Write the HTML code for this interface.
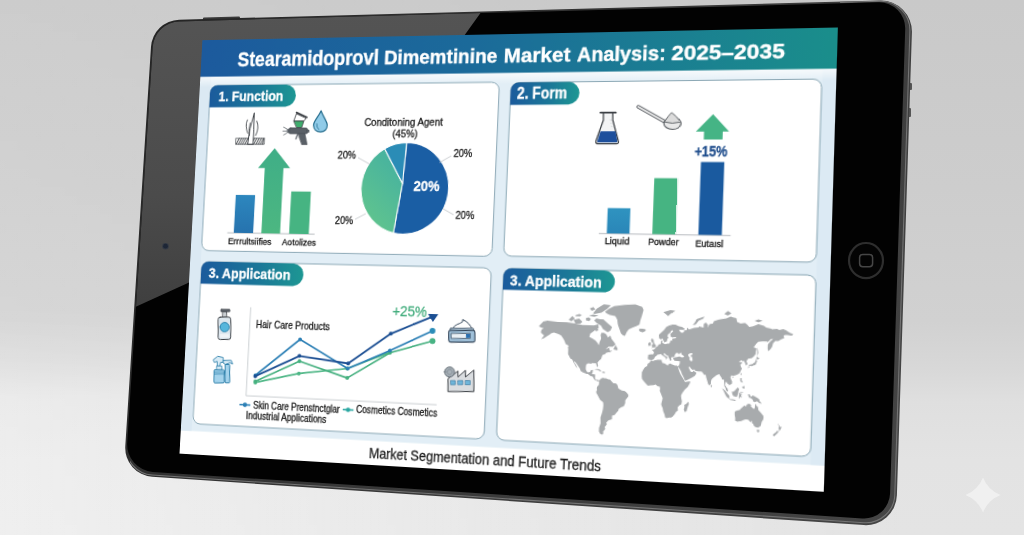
<!DOCTYPE html>
<html lang="en"><head><meta charset="utf-8"><title>Stearamidoprovl Dimemtinine Market Analysis</title>
<style>
html,body{margin:0;padding:0}
body{width:1024px;height:535px;overflow:hidden;position:relative;background:#d6d6d6;font-family:'Liberation Sans', sans-serif}
#bg{position:absolute;left:0;top:0;width:1024px;height:535px;background:linear-gradient(to bottom,#c9c9c9 0%,#cdcdcd 35%,#d1d1d1 60%,#d8d8d8 69%,#dfdfdf 75%,#e3e3e3 86%,#e4e4e4 100%)}
#bg2{position:absolute;left:0;top:0;width:1024px;height:535px;background:linear-gradient(to right,rgba(255,255,255,.42) 0%,rgba(255,255,255,.37) 15%,rgba(255,255,255,0) 88%);-webkit-mask-image:linear-gradient(to bottom,rgba(0,0,0,.17) 0%,rgba(0,0,0,.3) 58%,rgba(0,0,0,.56) 67%,rgba(0,0,0,.92) 74%,#000 100%);mask-image:linear-gradient(to bottom,rgba(0,0,0,.17) 0%,rgba(0,0,0,.3) 58%,rgba(0,0,0,.56) 67%,rgba(0,0,0,.92) 74%,#000 100%)}
#tablet{position:absolute;left:0;top:0}
#plane{position:absolute;left:0;top:0;width:0;height:0;transform-origin:0 0;transform:matrix3d(0.85116902,-0.024497638,0,-0.00016923228,-0.058584347,0.92302154,0,-3.6428372e-05,0,0,1,0,202.4,40.2,0,1)}
#plane svg{position:absolute;left:-12px;top:-12px;overflow:hidden}
text{font-family:'Liberation Sans', sans-serif}
#spark{position:absolute;left:965px;top:477px}
</style></head><body>
<div id="bg"></div><div id="bg2"></div>
<svg id="spark" width="36" height="36" viewBox="-18 -18 36 36"><path d="M0 -17.5Q5 -5 17.5 0Q5 5 0 17.5Q-5 5 -17.5 0Q-5 -5 0 -17.5Z" fill="#f0f0f0"/></svg>
<svg id="tablet" width="1024" height="535" viewBox="0 0 1024 535">
<defs>
<linearGradient id="refl" gradientUnits="userSpaceOnUse" x1="0" y1="10" x2="0" y2="320"><stop offset="0" stop-color="#545454"/><stop offset="0.6" stop-color="#4b4b4b"/><stop offset="1" stop-color="#3e3e3e"/></linearGradient>
<linearGradient id="rim" gradientUnits="userSpaceOnUse" x1="150" y1="0" x2="900" y2="530"><stop offset="0" stop-color="#242424"/><stop offset="0.5" stop-color="#383838"/><stop offset="1" stop-color="#454545"/></linearGradient>
<clipPath id="rbclip"><path d="M840 0H1024V535H130V455L860 500Z"/></clipPath>
<clipPath id="gclip"><path d="M152.7 47.1A27.5 27.5 0 0 1 179.4 21.4L878.5 2.3A26.0 26.0 0 0 1 905.2 29.1L890.1 493.3A26.0 26.0 0 0 1 862.5 518.4L152.8 471.9A27.5 27.5 0 0 1 127.2 442.7Z"/></clipPath>
</defs>
<rect x="203" y="17.6" width="37" height="3" rx="1" fill="#3a3a3a" transform="rotate(-1.56 203 19)"/>
<rect x="909" y="83" width="3" height="7" rx="1" fill="#555"/><rect x="908" y="108" width="3" height="9" rx="1" fill="#555"/>
<path d="M151.0 46.8A29.0 29.0 0 0 1 179.1 19.7L880.1 0.5A31.0 31.0 0 0 1 911.9 32.5L896.9 495.2A31.0 31.0 0 0 1 863.8 525.1L152.2 476.8A29.0 29.0 0 0 1 125.3 446.0Z" fill="url(#rim)"/>
<path d="M151.8 46.6A28.0 28.0 0 0 1 179.0 20.5L880.1 1.3A29.0 29.0 0 0 1 909.9 31.3L894.8 494.7A29.0 29.0 0 0 1 863.9 522.7L152.2 475.0A28.0 28.0 0 0 1 126.1 445.3Z" fill="none" stroke="#747474" stroke-width="1.1" clip-path="url(#rbclip)"/>
<path d="M152.7 47.1A27.5 27.5 0 0 1 179.4 21.4L878.5 2.3A26.0 26.0 0 0 1 905.2 29.1L890.1 493.3A26.0 26.0 0 0 1 862.5 518.4L152.8 471.9A27.5 27.5 0 0 1 127.2 442.7Z" fill="#020202"/>
<g clip-path="url(#gclip)"><path d="M100 -10H497L455 48.5L300 150L200 277.5L100 323Z" fill="url(#refl)"/></g>
<circle cx="165.5" cy="246.2" r="3.3" fill="#333a45"/><circle cx="165.5" cy="246.2" r="2.4" fill="#1d2636"/>
<ellipse cx="866" cy="260.6" rx="17" ry="17.6" fill="#040404" stroke="#2e2e2e" stroke-width="2.2"/>
<rect x="859.6" y="254.4" width="13" height="12.4" rx="3.2" fill="none" stroke="#464646" stroke-width="1.5"/>

</svg>
<div id="plane">
<svg width="664" height="464" viewBox="-12 -12 664 464">
<defs>
<linearGradient id="hdr" x1="0" x2="1" y1="0" y2="0"><stop offset="0" stop-color="#1c5a9d"/><stop offset="0.45" stop-color="#1b6a9a"/><stop offset="1" stop-color="#1a8e8b"/></linearGradient>
<linearGradient id="pl" x1="0" x2="1" y1="0" y2="0"><stop offset="0" stop-color="#1b5b9c"/><stop offset="0.55" stop-color="#1b7698"/><stop offset="1" stop-color="#1d9793"/></linearGradient>
<linearGradient id="glow" x1="0" x2="0" y1="0" y2="1"><stop offset="0" stop-color="#fff" stop-opacity="0.75"/><stop offset="1" stop-color="#fff" stop-opacity="0"/></linearGradient>
<linearGradient id="blg" x1="0" x2="0" y1="0" y2="1"><stop offset="0" stop-color="#2d87be"/><stop offset="1" stop-color="#2673ae"/></linearGradient>
<linearGradient id="blg2" x1="0" x2="0" y1="0" y2="1"><stop offset="0" stop-color="#2f93c0"/><stop offset="1" stop-color="#2a86b8"/></linearGradient>
<linearGradient id="gr" x1="0" x2="0" y1="0" y2="1"><stop offset="0" stop-color="#3fae87"/><stop offset="1" stop-color="#4cb781"/></linearGradient>
<linearGradient id="pieg" x1="0.7" x2="0.2" y1="0" y2="1"><stop offset="0" stop-color="#45b1a0"/><stop offset="1" stop-color="#63c68c"/></linearGradient>
<clipPath id="scr"><rect x="0" y="0" width="640" height="440"/></clipPath>
</defs>
<g clip-path="url(#scr)">
<rect x="0.0" y="0.0" width="640.0" height="440.0" fill="#ffffff"/>
<rect x="0.0" y="39.0" width="640.0" height="376.6" fill="#e2eef6"/>
<rect x="0.0" y="39.0" width="12.0" height="376.6" fill="#dbe9f3"/>
<rect x="627.5" y="39.0" width="12.5" height="376.6" fill="#dceaf4"/>
<rect x="0" y="39" width="640" height="12" fill="url(#glow)"/>
<rect x="0.0" y="0.0" width="640.0" height="39.6" fill="url(#hdr)"/>
<text y="28.9" fill="#fff" font-weight="bold" stroke="#fff" stroke-width="0.35"><tspan x="40.7" font-size="21.5" textLength="153.1" lengthAdjust="spacingAndGlyphs">Stearamidoprovl</tspan> <tspan x="199.4" font-size="21.0" textLength="117.0" lengthAdjust="spacingAndGlyphs">Dimemtinine</tspan> <tspan x="322.8" font-size="20.7" textLength="66.6" lengthAdjust="spacingAndGlyphs">Market</tspan> <tspan x="395.8" font-size="20.4" textLength="85.8" lengthAdjust="spacingAndGlyphs">Analysis:</tspan> <tspan x="487.1" font-size="20.0" textLength="105.6" lengthAdjust="spacingAndGlyphs">2025–2035</tspan></text>
<rect x="12" y="49" width="307.6" height="176.4" rx="8" ry="8" fill="#fff" stroke="#86a3b1" stroke-width="0.95"/>
<rect x="331.3" y="49.5" width="295.7" height="175.3" rx="8" ry="8" fill="#fff" stroke="#86a3b1" stroke-width="0.95"/>
<rect x="13" y="237" width="306.7" height="171.0" rx="8" ry="8" fill="#fff" stroke="#86a3b1" stroke-width="0.95"/>
<rect x="332" y="237" width="295.3" height="171.0" rx="8" ry="8" fill="#fff" stroke="#86a3b1" stroke-width="0.95"/>
<path d="M20.0 49.0H96.2A11.8 11.8 0 0 1 96.2 72.5H12.0V57.0A8 8 0 0 1 20.0 49.0Z" fill="url(#pl)" stroke="none" stroke-width="1"/>
<text x="21.7" y="65.6" font-size="14.9" fill="#fff" font-weight="bold" text-anchor="start" textLength="71.6" lengthAdjust="spacingAndGlyphs" stroke="#fff" stroke-width="0.3">1. Function</text>
<path d="M339.3 49.5H389.3A11.4 11.4 0 0 1 389.3 72.2H331.3V57.5A8 8 0 0 1 339.3 49.5Z" fill="url(#pl)" stroke="none" stroke-width="1"/>
<text x="337.8" y="66.2" font-size="15.6" fill="#fff" font-weight="bold" text-anchor="start" textLength="49.8" lengthAdjust="spacingAndGlyphs" stroke="#fff" stroke-width="0.3">2. Form</text>
<path d="M21.0 237.0H114.3A11.8 11.8 0 0 1 114.3 260.5H13.0V245.0A8 8 0 0 1 21.0 237.0Z" fill="url(#pl)" stroke="none" stroke-width="1"/>
<text x="21.6" y="254.0" font-size="15" fill="#fff" font-weight="bold" text-anchor="start" textLength="89.5" lengthAdjust="spacingAndGlyphs" stroke="#fff" stroke-width="0.3">3. Application</text>
<path d="M340.0 237.0H430.4A10.8 10.8 0 0 1 430.4 258.6H332.0V245.0A8 8 0 0 1 340.0 237.0Z" fill="url(#pl)" stroke="none" stroke-width="1"/>
<text x="338.8" y="253.6" font-size="15.2" fill="#fff" font-weight="bold" text-anchor="start" textLength="89.8" lengthAdjust="spacingAndGlyphs" stroke="#fff" stroke-width="0.3">3. Application</text>
<line x1="39.6" y1="206.1" x2="134.8" y2="206.1" stroke="#b8bcc0" stroke-width="1"/>
<rect x="46.8" y="165.9" width="21.3" height="40.1" fill="url(#blg)"/>
<path d="M77.1 206V137.2H69.8L86.8 116.2L104.7 137.2H97.5V206Z" fill="url(#gr)" stroke="none" stroke-width="1"/>
<rect x="107.3" y="161.7" width="21.2" height="44.3" fill="#46b482"/>
<text x="41.0" y="218.1" font-size="9.3" fill="#161616" font-weight="normal" text-anchor="start" textLength="47.6" lengthAdjust="spacingAndGlyphs" stroke="#161616" stroke-width="0.28">Errrultsiifies</text>
<text x="100.1" y="217.8" font-size="9.3" fill="#161616" font-weight="normal" text-anchor="start" textLength="36.6" lengthAdjust="spacingAndGlyphs" stroke="#161616" stroke-width="0.28">Aotolizes</text>
<path d="M224.9 152.5L227.4 110.5A45.5 47 0 1 1 217.9 203.5Z" fill="#1a5ea4" stroke="#fff" stroke-width="1.1" stroke-linejoin="round"/>
<path d="M224.9 152.5L217.9 203.5A45.5 47 0 0 1 204.6 116.8Z" fill="url(#pieg)" stroke="#fff" stroke-width="1.1" stroke-linejoin="round"/>
<path d="M224.9 152.5L204.6 116.8A45.5 47 0 0 1 227.4 110.5Z" fill="#2b8cb6" stroke="#fff" stroke-width="1.1" stroke-linejoin="round"/>
<text x="181.9" y="93.3" font-size="10.6" fill="#161616" font-weight="normal" text-anchor="start" textLength="81.9" lengthAdjust="spacingAndGlyphs" stroke="#161616" stroke-width="0.28">Conditoning Agent</text>
<text x="212.0" y="104.6" font-size="10.6" fill="#161616" font-weight="normal" text-anchor="start" textLength="26.3" lengthAdjust="spacingAndGlyphs" stroke="#161616" stroke-width="0.28">(45%)</text>
<text x="155.3" y="127.4" font-size="10.6" fill="#161616" font-weight="normal" text-anchor="start" textLength="19.4" lengthAdjust="spacingAndGlyphs" stroke="#161616" stroke-width="0.28">20%</text>
<text x="276.2" y="125.0" font-size="10.6" fill="#161616" font-weight="normal" text-anchor="start" textLength="19.1" lengthAdjust="spacingAndGlyphs" stroke="#161616" stroke-width="0.28">20%</text>
<text x="155.8" y="195.2" font-size="10.6" fill="#161616" font-weight="normal" text-anchor="start" textLength="19.3" lengthAdjust="spacingAndGlyphs" stroke="#161616" stroke-width="0.28">20%</text>
<text x="281.1" y="188.3" font-size="10.6" fill="#161616" font-weight="normal" text-anchor="start" textLength="19.0" lengthAdjust="spacingAndGlyphs" stroke="#161616" stroke-width="0.28">20%</text>
<text x="236.5" y="160.2" font-size="14.3" fill="#fff" font-weight="bold" text-anchor="start" textLength="26.9" lengthAdjust="spacingAndGlyphs" stroke="#fff" stroke-width="0.3">20%</text>
<line x1="177" y1="126" x2="190" y2="133" stroke="#b5b9bd" stroke-width="0.7"/>
<line x1="274" y1="124" x2="262" y2="131" stroke="#b5b9bd" stroke-width="0.7"/>
<line x1="177" y1="190" x2="188" y2="184" stroke="#b5b9bd" stroke-width="0.7"/>
<line x1="279" y1="184" x2="268" y2="178" stroke="#b5b9bd" stroke-width="0.7"/>
<line x1="423.9" y1="200.7" x2="548.4" y2="200.7" stroke="#b8bcc0" stroke-width="1"/>
<rect x="431.6" y="175.4" width="21.8" height="25.0" fill="url(#blg2)"/>
<rect x="475.1" y="145.5" width="22.1" height="54.9" fill="#46b482"/>
<rect x="518.5" y="129.5" width="21.8" height="70.9" fill="#1a5a9f"/>
<text x="429.9" y="211.5" font-size="8.7" fill="#161616" font-weight="normal" text-anchor="start" textLength="23.7" lengthAdjust="spacingAndGlyphs" stroke="#161616" stroke-width="0.28">Liquid</text>
<text x="471.4" y="211.4" font-size="8.7" fill="#161616" font-weight="normal" text-anchor="start" textLength="29.0" lengthAdjust="spacingAndGlyphs" stroke="#161616" stroke-width="0.28">Powder</text>
<text x="515.9" y="211.8" font-size="8.7" fill="#161616" font-weight="normal" text-anchor="start" textLength="26.1" lengthAdjust="spacingAndGlyphs" stroke="#161616" stroke-width="0.28">Eutaısl</text>
<path d="M528.3 82.7L543.7 99.8H537.9V107.5H520.4V99.8H512.7Z" fill="#45b485" stroke="none" stroke-width="1"/>
<text x="512.2" y="123.9" font-size="14" fill="#1f4d8c" font-weight="bold" text-anchor="start" textLength="30.6" lengthAdjust="spacingAndGlyphs" stroke="#1f4d8c" stroke-width="0.3">+15%</text>
<path d="M69.8 283.9V376.1H270.6" fill="none" stroke="#c4c8cc" stroke-width="0.9"/>
<path d="M79.1 361.9L125.5 350.7L176.5 343.5L220.2 325.1" fill="none" stroke="#4db685" stroke-width="1.7" stroke-linejoin="round" stroke-linecap="round"/>
<circle cx="79.1" cy="361.9" r="2.0" fill="#4db685"/>
<circle cx="125.5" cy="350.7" r="2.0" fill="#4db685"/>
<circle cx="176.5" cy="343.5" r="2.0" fill="#4db685"/>
<circle cx="220.2" cy="325.1" r="2.0" fill="#4db685"/>
<path d="M79.0 360.8L125.5 338.0L177.0 353.1L220.2 325.8L263.4 312.2" fill="none" stroke="#45b07f" stroke-width="1.7" stroke-linejoin="round" stroke-linecap="round"/>
<circle cx="79.0" cy="360.8" r="2.0" fill="#45b07f"/>
<circle cx="125.5" cy="338.0" r="2.0" fill="#45b07f"/>
<circle cx="177.0" cy="353.1" r="2.0" fill="#45b07f"/>
<circle cx="220.2" cy="325.8" r="2.0" fill="#45b07f"/>
<circle cx="263.4" cy="312.2" r="2.0" fill="#45b07f"/>
<path d="M78.7 354.5L125.0 315.5L177.0 343.5L220.1 323.5L262.9 302.0" fill="none" stroke="#2b7fb5" stroke-width="1.7" stroke-linejoin="round" stroke-linecap="round"/>
<circle cx="78.7" cy="354.5" r="2.0" fill="#2b7fb5"/>
<circle cx="125.0" cy="315.5" r="2.0" fill="#2b7fb5"/>
<circle cx="177.0" cy="343.5" r="2.0" fill="#2b7fb5"/>
<circle cx="220.1" cy="323.5" r="2.0" fill="#2b7fb5"/>
<circle cx="262.9" cy="302.0" r="2.0" fill="#2b7fb5"/>
<path d="M78.7 355.4L125.2 332.6L177.2 338.2L220.2 306.3L261.2 288.1" fill="none" stroke="#1c4f93" stroke-width="1.9" stroke-linejoin="round" stroke-linecap="round"/>
<circle cx="78.7" cy="355.4" r="2.0" fill="#1c4f93"/>
<circle cx="125.2" cy="332.6" r="2.0" fill="#1c4f93"/>
<circle cx="177.2" cy="338.2" r="2.0" fill="#1c4f93"/>
<circle cx="220.2" cy="306.3" r="2.0" fill="#1c4f93"/>
<circle cx="261.2" cy="288.1" r="2.0" fill="#1c4f93"/>
<circle cx="262.9" cy="302" r="3" fill="#2b8db8"/><circle cx="263.4" cy="312.2" r="3" fill="#48b384"/>
<path d="M257.6 284.9L268.1 284.9L262.9 293.1Z" fill="#1c4f93" stroke="none" stroke-width="1"/>
<text x="76.4" y="304.8" font-size="10.7" fill="#161616" font-weight="normal" text-anchor="start" textLength="79.6" lengthAdjust="spacingAndGlyphs" stroke="#161616" stroke-width="0.28">Hair Care Products</text>
<text x="220.7" y="288.0" font-size="14.8" fill="#43ad7d" font-weight="normal" text-anchor="start" textLength="35.6" lengthAdjust="spacingAndGlyphs" stroke="#43ad7d" stroke-width="0.28">+25%</text>
<line x1="63.2" y1="385.6" x2="75" y2="385.6" stroke="#2b7fb5" stroke-width="1.6"/><circle cx="69.1" cy="385.6" r="2.3" fill="#2b7fb5"/>
<text x="78.1" y="389.2" font-size="10" fill="#161616" font-weight="normal" text-anchor="start" textLength="92.7" lengthAdjust="spacingAndGlyphs" stroke="#161616" stroke-width="0.28">Skin Care Prenstnctglar</text>
<line x1="173.9" y1="385.5" x2="185.2" y2="385.5" stroke="#2ba7a2" stroke-width="1.6"/><circle cx="179.5" cy="385.5" r="2.3" fill="#2ba7a2"/>
<text x="188.0" y="388.4" font-size="10" fill="#161616" font-weight="normal" text-anchor="start" textLength="83.5" lengthAdjust="spacingAndGlyphs" stroke="#161616" stroke-width="0.28">Cosmetics Cosmetics</text>
<text x="70.8" y="400.0" font-size="10" fill="#161616" font-weight="normal" text-anchor="start" textLength="86.5" lengthAdjust="spacingAndGlyphs" stroke="#161616" stroke-width="0.28">Industrial Applications</text>
<path d="M369.4 293.4L373.4 289.0L377.4 287.9L387.4 289.0L396.1 289.0L404.8 290.1L411.5 291.2L418.1 291.2L422.8 291.2L426.8 290.1L427.5 293.4L424.2 295.7L419.5 299.4L418.8 302.8L421.5 303.9L424.8 306.1L426.8 308.2L428.2 310.4L428.8 307.2L430.2 303.9L429.5 300.6L430.2 298.2L432.8 298.2L434.8 299.4L436.8 302.8L438.8 300.6L440.2 303.9L442.9 307.2L444.2 309.3L441.5 311.4L437.5 311.4L434.8 314.4L438.2 312.4L438.8 315.4L441.5 315.4L438.8 317.1L437.5 317.1L434.8 317.9L434.8 319.0L432.2 319.8L431.5 321.7L430.8 324.1L429.5 324.9L427.5 327.4L428.2 330.6L427.8 332.2L426.8 330.6L426.2 328.2L424.8 328.2L422.1 328.2L421.5 329.0L418.8 328.6L416.8 329.8L416.5 332.2L416.5 334.4L417.5 336.6L418.8 337.4L420.8 337.0L421.5 335.2L423.5 334.8L423.2 337.4L422.5 338.9L425.5 338.9L425.8 340.4L425.8 343.0L426.8 344.6L428.2 344.6L428.8 344.2L429.8 345.0L429.5 345.7L428.2 345.7L427.5 345.3L426.2 345.0L424.8 343.8L424.2 342.5L423.2 341.3L421.5 340.9L420.1 340.0L418.8 338.9L417.5 339.1L415.5 338.3L413.5 337.4L411.5 336.3L411.1 334.4L409.5 332.2L408.1 330.2L406.5 328.2L405.1 326.9L405.1 328.2L406.8 330.6L408.1 332.9L408.5 333.7L406.8 332.2L405.4 329.8L404.4 328.2L403.4 326.1L402.4 324.9L401.1 324.5L400.1 322.5L398.8 320.2L398.8 317.9L398.8 315.4L398.4 313.0L399.4 312.4L398.1 311.4L396.1 310.4L394.8 307.2L393.4 305.0L391.4 302.2L389.4 301.2L387.4 300.6L384.1 299.4L381.4 300.6L380.1 301.7L377.4 303.4L374.7 305.6L372.0 306.6L374.7 302.8L373.4 301.7L371.4 300.0L372.0 296.9L374.1 295.7L371.4 295.1L369.4 293.9ZM432.8 277.7L436.2 274.7L441.5 271.7L451.5 270.2L461.6 269.4L468.2 271.7L469.6 274.7L468.2 280.6L466.9 285.0L466.2 289.0L463.6 290.6L459.6 292.3L456.2 293.9L454.2 296.9L452.9 300.6L450.9 300.0L448.9 298.2L447.5 294.5L446.2 291.2L445.5 289.0L444.9 285.0L442.9 281.4L437.5 280.6L434.8 279.2ZM428.2 285.0L431.5 285.0L436.2 289.0L440.2 292.3L438.8 295.7L436.2 297.6L433.5 295.7L431.5 294.5L429.5 291.2L425.5 289.0L422.8 286.4L424.8 284.3ZM402.8 286.4L408.1 285.0L411.5 287.9L409.5 290.1L404.8 290.1ZM421.5 279.2L424.8 274.7L431.5 270.2L438.2 270.9L434.8 274.7L429.5 278.4L422.8 279.9ZM398.1 286.4L401.4 282.8L404.1 285.0L400.8 287.9ZM417.5 282.1L421.5 280.6L426.8 281.4L422.8 282.8ZM404.1 282.1L408.1 280.6L410.8 281.4L408.8 282.8L404.8 282.8ZM414.8 284.3L417.5 283.5L419.5 285.0L418.1 287.2L414.8 286.4ZM423.5 293.9L425.5 293.4L427.5 295.7L424.8 296.9ZM418.1 274.7L421.5 273.2L423.5 275.4L420.1 276.9ZM429.8 345.0L431.5 343.0L433.5 342.1L434.2 342.5L436.2 342.5L438.8 343.4L440.2 343.4L441.5 345.0L443.5 346.9L445.5 347.0L447.2 348.0L448.2 350.7L448.2 351.5L449.5 352.4L451.9 353.8L454.9 354.2L456.9 356.1L458.2 357.8L458.2 359.3L456.9 361.1L455.5 363.0L455.5 366.0L454.2 369.0L452.2 369.8L449.5 371.7L449.2 373.5L447.5 375.6L445.9 377.8L443.5 378.5L443.5 382.0L440.2 383.2L438.2 385.5L438.8 387.3L436.8 390.0L437.5 391.8L435.5 394.4L435.8 396.2L434.8 397.6L432.8 396.7L431.5 394.4L431.5 390.9L432.8 386.4L432.5 380.8L433.8 376.3L434.5 372.7L434.8 369.0L434.5 366.0L431.5 363.8L430.2 361.5L428.8 358.9L427.5 357.0L427.5 355.6L428.2 354.2L427.8 352.4L428.2 350.7L429.2 350.0L429.8 348.4L429.8 346.1ZM470.2 335.2L470.2 339.6L470.6 341.7L471.6 343.0L472.9 344.6L474.3 346.1L476.3 348.0L478.9 347.6L481.6 347.3L483.6 346.5L485.3 348.0L487.6 348.4L487.9 350.7L487.6 352.4L488.9 355.2L489.6 357.0L490.6 359.3L490.3 361.5L489.6 364.5L489.6 366.0L491.0 369.0L491.6 372.0L493.0 374.9L493.6 377.8L495.0 378.5L497.0 377.8L499.0 377.8L500.3 377.1L502.3 374.5L503.6 372.0L505.3 370.5L505.0 367.5L506.3 365.7L508.3 364.5L508.7 361.5L508.0 358.5L507.7 356.1L509.0 353.3L511.0 350.3L513.7 347.6L515.7 343.4L515.7 342.1L513.0 342.5L511.0 343.0L510.3 341.7L509.0 339.6L507.7 337.4L506.3 335.2L505.3 332.9L504.3 330.2L503.3 328.2L503.0 327.4L501.0 327.4L498.3 326.5L496.3 325.7L495.0 326.5L494.3 327.8L491.6 326.1L488.9 325.3L488.3 322.5L484.9 322.5L481.6 323.3L480.3 324.1L477.9 323.3L477.6 324.9L475.3 326.9L474.9 329.0L472.9 330.2L471.6 332.2ZM514.7 361.5L515.3 364.1L514.3 366.8L513.3 370.9L511.7 371.7L510.7 369.4L511.3 366.8L511.0 364.9L513.0 363.8ZM475.6 322.5L475.3 320.9L475.6 319.0L475.6 317.9L478.3 317.5L480.3 317.5L480.9 315.4L479.9 314.0L478.6 313.0L480.6 312.8L481.6 311.9L482.6 310.4L484.3 309.3L484.9 307.7L486.9 307.2L487.3 303.9L488.6 303.4L488.3 306.1L489.6 306.6L491.0 307.2L493.6 306.6L495.0 306.6L495.6 305.0L496.0 303.4L497.6 303.4L497.3 301.7L500.3 301.2L501.6 300.6L500.3 300.0L497.0 300.6L496.0 299.4L495.6 296.9L498.3 294.5L497.6 293.4L496.3 293.9L495.6 295.7L493.6 297.6L493.0 299.4L494.0 300.6L493.0 302.2L492.6 304.4L491.3 305.0L490.3 305.6L488.9 302.8L488.6 301.7L486.9 302.8L485.3 301.7L484.9 298.2L486.9 296.3L489.6 293.4L491.6 290.6L494.3 289.0L497.6 287.9L500.3 287.9L502.3 289.0L503.6 289.5L506.3 290.1L509.0 291.7L508.3 292.8L505.0 292.8L503.6 292.8L505.0 295.1L506.3 295.7L508.3 295.1L508.3 293.4L511.0 292.8L511.0 290.6L513.0 292.3L517.7 290.6L521.7 290.1L522.3 289.0L526.4 290.1L526.4 286.4L528.4 285.0L530.4 287.2L530.4 290.1L531.7 286.4L535.0 285.7L535.7 283.5L539.7 282.1L541.7 281.4L547.1 280.6L551.1 278.4L553.1 279.2L556.4 279.9L557.1 283.5L560.4 285.0L564.4 284.3L566.4 285.7L568.4 287.9L571.8 287.2L575.1 285.7L576.5 285.0L581.8 286.4L583.8 287.9L588.5 289.0L589.1 289.5L593.8 289.0L595.8 290.1L599.2 289.0L601.8 290.1L605.2 292.3L608.5 293.4L607.2 295.1L603.2 294.5L601.8 294.5L599.8 295.1L600.5 297.6L597.8 298.8L595.2 300.6L592.5 300.6L590.5 302.8L589.8 306.1L588.5 308.2L586.5 310.4L585.8 308.2L585.8 303.9L588.5 300.6L590.5 298.8L588.5 298.8L585.8 301.7L584.5 301.2L581.1 301.2L577.1 301.7L575.1 303.9L573.1 307.2L575.8 308.2L575.1 311.4L575.1 313.5L573.8 315.4L571.8 317.5L569.8 317.9L568.4 318.2L567.1 320.2L566.8 320.9L567.8 322.5L567.8 324.1L566.1 324.5L565.8 322.5L565.1 321.7L565.1 320.6L562.8 320.9L563.1 319.8L560.4 320.9L560.4 321.7L562.4 322.1L563.4 322.5L561.4 324.1L562.1 326.5L563.1 327.8L561.8 330.6L561.1 332.2L559.1 333.7L557.4 334.4L555.1 335.2L553.7 334.8L552.7 336.6L553.4 338.5L554.4 340.4L554.4 342.5L553.1 343.4L551.7 344.6L551.7 343.4L550.4 343.0L549.7 341.7L548.7 340.9L548.4 342.1L548.1 344.2L549.1 346.1L550.4 347.6L551.1 350.3L550.4 350.3L549.1 349.2L548.7 347.6L548.1 346.1L547.4 345.3L547.4 343.8L547.1 341.3L546.7 338.9L545.1 338.9L544.7 337.4L543.1 335.2L542.4 334.1L541.1 334.4L539.7 335.2L539.0 335.9L537.7 337.0L535.7 338.9L535.0 340.9L535.0 343.8L533.4 345.3L532.4 343.8L531.4 340.4L530.4 337.4L530.0 335.2L528.4 335.2L527.0 333.3L526.0 332.2L523.0 332.2L520.0 331.8L519.3 330.6L517.7 331.0L516.0 329.8L515.0 328.2L513.7 328.2L514.3 329.8L515.3 331.8L515.7 332.6L516.3 332.9L517.7 332.9L519.0 331.4L519.3 332.6L520.7 333.3L521.3 334.1L520.0 336.6L518.3 337.8L516.3 338.9L513.7 340.4L511.7 341.4L510.7 341.4L510.0 339.6L509.0 337.4L507.7 335.2L507.0 332.9L505.0 329.8L504.6 329.8L504.8 328.6L504.0 329.4L503.3 328.2L504.6 327.4L505.3 325.7L505.6 323.3L503.6 323.1L502.0 322.9L500.3 322.7L499.3 321.3L499.0 320.2L501.0 319.4L502.6 319.2L505.0 318.6L507.0 319.4L509.3 319.0L509.0 317.9L507.3 316.7L506.3 315.8L507.3 314.4L505.0 315.4L504.0 316.7L503.6 315.4L502.3 314.9L501.0 316.3L500.3 317.9L500.3 319.0L499.0 319.6L497.6 319.6L497.3 320.2L496.8 320.6L497.6 321.7L497.0 322.9L496.0 322.5L495.6 320.9L494.6 319.8L494.6 318.6L493.0 317.9L491.6 316.7L490.6 315.8L490.0 317.1L491.0 318.2L492.3 318.8L494.0 320.0L493.0 320.9L492.6 321.7L492.1 321.7L492.3 320.6L491.0 319.4L489.6 318.6L488.6 317.9L487.5 316.8L486.3 317.3L484.6 317.5L483.6 317.9L483.6 318.8L481.9 319.8L481.6 321.1L480.9 322.1L479.9 322.7L478.3 323.1L477.3 322.7ZM477.9 311.4L479.6 310.9L482.3 310.4L482.6 308.8L481.6 307.7L480.6 306.1L480.3 305.0L480.3 303.4L478.9 303.1L479.6 302.1L478.3 302.2L477.6 303.9L478.3 305.6L479.6 306.6L479.6 307.7L478.6 308.2L478.8 309.3L478.3 309.6L479.6 309.9ZM474.9 309.3L477.6 309.3L477.6 307.2L477.9 306.6L476.6 305.8L474.9 307.2L475.6 308.2ZM465.6 293.9L466.9 295.7L469.6 296.5L472.2 295.1L472.2 293.4L469.6 293.0L466.9 293.0ZM568.4 327.4L569.4 325.3L570.4 324.9L572.1 325.3L573.1 324.4L575.1 324.1L575.8 322.5L576.5 320.6L576.1 319.0L575.1 319.4L574.8 321.3L573.1 322.5L572.4 323.3L570.4 323.7L569.1 324.5L568.4 325.7ZM575.1 318.6L575.8 317.9L576.3 315.8L577.1 316.8L578.8 317.5L577.5 318.6L575.8 318.6ZM576.5 315.4L577.5 312.4L577.1 309.3L576.8 307.2L576.5 309.3L576.5 312.4ZM561.8 333.7L562.4 332.2L563.1 332.2L562.4 334.4ZM535.0 344.2L536.2 345.7L535.7 346.9L535.0 346.6L534.9 345.3ZM561.8 337.0L563.1 337.0L563.1 338.9L564.4 341.3L563.1 340.9L562.4 340.4L561.8 339.6ZM563.1 346.1L564.4 345.0L565.8 344.2L566.1 346.5L565.1 347.1L563.8 345.7ZM545.4 347.3L547.1 348.4L548.7 350.0L550.7 352.4L552.4 354.2L552.4 357.0L551.1 356.5L549.7 355.2L548.4 352.9L547.1 350.3ZM552.1 357.4L553.7 357.4L555.7 357.4L558.1 358.1L558.1 359.0L555.1 358.5L552.4 358.1ZM554.4 350.3L555.7 350.2L557.1 349.2L558.4 347.6L559.8 346.1L561.1 347.6L560.4 350.0L560.4 351.1L560.1 352.4L559.1 355.2L557.8 354.7L556.1 354.4L555.1 352.9ZM561.4 351.1L562.4 350.6L565.1 350.3L563.8 351.3L562.1 351.3L562.8 352.4L564.1 352.4L563.1 353.3L563.6 355.6L562.8 355.6L562.1 354.2L562.0 356.5L561.4 356.5L561.1 354.2ZM569.1 352.2L571.1 352.2L571.8 354.5L573.8 353.1L575.8 353.9L578.5 355.6L580.1 357.0L579.8 357.8L582.1 360.4L579.8 360.0L577.8 358.3L575.8 359.3L574.1 358.5L573.8 357.0L571.8 355.6L570.4 355.2L569.8 353.8ZM557.8 369.0L557.8 372.0L558.4 374.9L558.4 377.8L560.4 378.5L564.1 377.8L565.8 376.7L567.8 376.1L569.4 376.0L571.1 376.8L572.1 378.4L573.8 377.1L573.7 379.2L574.8 379.7L575.8 382.0L577.5 382.9L579.5 383.2L581.8 381.4L582.5 377.8L583.8 375.6L584.1 373.5L583.8 371.7L582.5 370.2L581.5 369.0L579.8 367.2L579.1 366.4L578.8 363.8L577.5 363.0L576.8 360.6L576.1 362.3L575.8 365.3L574.8 365.7L573.1 364.3L572.4 363.8L572.4 361.9L571.8 361.5L570.1 361.1L568.4 361.9L568.1 363.8L566.4 363.0L565.1 364.1L564.1 365.3L563.1 366.0L562.4 367.2L559.8 368.0ZM578.5 385.3L580.5 385.3L580.5 387.3L579.1 387.7L578.5 386.4ZM597.0 378.1L598.5 380.2L599.2 381.4L600.8 381.6L599.8 383.8L598.5 385.9L598.4 383.8L597.8 383.2L598.3 381.4ZM597.0 384.9L598.0 385.9L597.0 387.7L595.8 389.1L594.5 390.5L592.8 390.0L593.8 388.2L595.5 387.0ZM488.3 276.2L495.0 273.9L499.6 274.7L495.0 277.7L493.0 279.9L490.3 277.7ZM516.3 287.9L518.3 285.0L519.7 282.1L525.0 279.9L527.0 279.2L525.7 281.4L521.7 283.5L519.0 287.2ZM424.8 334.4L426.8 333.7L429.5 334.1L431.8 335.8L429.8 336.0L429.5 335.2L426.8 334.4ZM431.8 337.0L433.5 335.9L435.8 337.0L434.2 337.4ZM442.2 314.0L444.2 309.8L446.2 313.0L446.2 314.7L444.2 314.4ZM554.2 336.4L555.4 335.9L555.7 336.6L554.7 337.2ZM568.4 325.3L569.6 325.3L569.4 327.1L568.6 327.2ZM545.1 276.2L548.4 273.2L551.7 275.4L548.4 277.7ZM573.1 282.1L576.5 280.6L580.5 281.7L576.5 283.3Z" fill="#a8abad" stroke="none" stroke-width="1"/>
<path d="M513.0 316.3L515.0 314.9L517.0 314.9L517.0 316.3L515.7 316.7L515.3 318.2L516.7 318.6L517.0 320.2L517.3 322.1L516.3 322.7L514.7 322.1L514.3 320.6L514.7 319.4L513.3 317.9Z" fill="#fff" stroke="none" stroke-width="1"/>
<text x="203.4" y="432.6" font-size="14" fill="#1d1d1d" font-weight="normal" text-anchor="start" textLength="231.4" lengthAdjust="spacingAndGlyphs" stroke="#1d1d1d" stroke-width="0.28">Market Segmentation and Future Trends</text>
<path d="M 43.75 105.76 L 74.87 105.79 L 75.22 112.15 L 44.11 112.15 Z" fill="#f4f4f4" stroke="#3b3f44" stroke-width="0.7" stroke-linejoin="round" stroke-linecap="round"/>
<path d="M 44.11 112.15 L 47.30 105.76" fill="none" stroke="#3b3f44" stroke-width="0.9" stroke-linejoin="round" stroke-linecap="round"/>
<path d="M 46.55 112.15 L 49.74 105.76" fill="none" stroke="#3b3f44" stroke-width="0.9" stroke-linejoin="round" stroke-linecap="round"/>
<path d="M 48.98 112.15 L 52.17 105.77" fill="none" stroke="#3b3f44" stroke-width="0.9" stroke-linejoin="round" stroke-linecap="round"/>
<path d="M 51.42 112.15 L 54.60 105.77" fill="none" stroke="#3b3f44" stroke-width="0.9" stroke-linejoin="round" stroke-linecap="round"/>
<path d="M 53.85 112.15 L 57.03 105.77" fill="none" stroke="#3b3f44" stroke-width="0.9" stroke-linejoin="round" stroke-linecap="round"/>
<path d="M 56.28 112.15 L 59.46 105.77" fill="none" stroke="#3b3f44" stroke-width="0.9" stroke-linejoin="round" stroke-linecap="round"/>
<path d="M 58.71 112.15 L 61.89 105.78" fill="none" stroke="#3b3f44" stroke-width="0.9" stroke-linejoin="round" stroke-linecap="round"/>
<path d="M 61.14 112.15 L 64.32 105.78" fill="none" stroke="#3b3f44" stroke-width="0.9" stroke-linejoin="round" stroke-linecap="round"/>
<path d="M 63.57 112.15 L 66.74 105.78" fill="none" stroke="#3b3f44" stroke-width="0.9" stroke-linejoin="round" stroke-linecap="round"/>
<path d="M 65.99 112.15 L 69.16 105.79" fill="none" stroke="#3b3f44" stroke-width="0.9" stroke-linejoin="round" stroke-linecap="round"/>
<path d="M 68.41 112.15 L 71.58 105.79" fill="none" stroke="#3b3f44" stroke-width="0.9" stroke-linejoin="round" stroke-linecap="round"/>
<path d="M 70.83 112.15 L 74.00 105.79" fill="none" stroke="#3b3f44" stroke-width="0.9" stroke-linejoin="round" stroke-linecap="round"/>
<path d="M 73.25 112.15 L 74.87 105.79" fill="none" stroke="#3b3f44" stroke-width="0.9" stroke-linejoin="round" stroke-linecap="round"/>
<path d="M 56.82 111.83 Q 57.50 96.20 62.39 78.78 Q 62.98 97.49 62.89 111.83 Z" fill="#fff" stroke="#3b3f44" stroke-width="1.0" stroke-linejoin="round" stroke-linecap="round"/>
<path d="M 55.28 86.19 Q 52.57 93.10 56.29 100.35" fill="none" stroke="#3b3f44" stroke-width="0.9" stroke-linejoin="round" stroke-linecap="round"/>
<path d="M 58.34 89.50 Q 56.68 95.35 58.53 102.80" fill="none" stroke="#3b3f44" stroke-width="0.8" stroke-linejoin="round" stroke-linecap="round"/>
<path d="M 65.73 87.51 Q 68.90 94.96 65.25 102.70" fill="none" stroke="#3b3f44" stroke-width="0.9" stroke-linejoin="round" stroke-linecap="round"/>
<path d="M 108.86 80.00 L 119.29 84.69 L 116.91 87.73 L 106.44 87.69 Z" fill="#fff" stroke="#3b3f44" stroke-width="0.9" stroke-linejoin="round" stroke-linecap="round"/>
<path d="M 106.44 87.69 L 116.91 87.73 L 114.95 94.68 L 109.85 94.66 Z" fill="#3fae6e" stroke="#3b3f44" stroke-width="0.9" stroke-linejoin="round" stroke-linecap="round"/>
<path d="M 108.57 78.62 L 120.11 83.75" fill="none" stroke="#3b3f44" stroke-width="1.7" stroke-linejoin="round" stroke-linecap="round"/>
<path d="M 102.91 94.85 L 119.72 94.91 Q 121.45 94.91 121.54 96.59 L 121.69 99.43 Q 121.78 101.12 120.05 101.11 L 103.24 101.08 Q 101.50 101.08 101.41 99.39 L 101.26 96.54 Q 101.17 94.85 102.91 94.85 Z" fill="#5a6067" stroke="#474c52" stroke-width="0.6" stroke-linejoin="round" stroke-linecap="round"/>
<path d="M 99.50 96.22 L 101.90 96.22 L 102.09 99.81 L 99.69 99.81 Z" fill="#5a6067" stroke="#474c52" stroke-width="0.5" stroke-linejoin="round" stroke-linecap="round"/>
<path d="M 120.91 97.01 L 123.07 97.02 L 123.21 99.54 L 121.04 99.54 Z" fill="#5a6067" stroke="#474c52" stroke-width="0.5" stroke-linejoin="round" stroke-linecap="round"/>
<path d="M 111.59 100.89 L 118.85 100.90 L 121.94 112.47 L 116.10 112.47 Z" fill="#5a6067" stroke="#474c52" stroke-width="0.6" stroke-linejoin="round" stroke-linecap="round"/>
<path d="M 110.97 101.52 L 109.39 106.47" fill="none" stroke="#5a6067" stroke-width="1.3" stroke-linejoin="round" stroke-linecap="round"/>
<path d="M 95.36 94.09 L 98.60 95.69" fill="none" stroke="#60666c" stroke-width="0.8" stroke-linejoin="round" stroke-linecap="round"/>
<path d="M 94.92 98.21 L 98.52 98.22" fill="none" stroke="#60666c" stroke-width="0.8" stroke-linejoin="round" stroke-linecap="round"/>
<path d="M 95.79 102.23 L 98.86 100.54" fill="none" stroke="#60666c" stroke-width="0.8" stroke-linejoin="round" stroke-linecap="round"/>
<path d="M 135.07 76.99 C 132.85 82.86 127.45 87.78 127.67 92.09 C 127.90 96.40 131.16 99.14 135.58 99.15 C 139.98 99.16 142.63 96.44 142.41 92.14 C 142.19 87.84 137.31 82.89 135.07 76.99 Z" fill="#90cbe8" stroke="#1f6889" stroke-width="1.2" stroke-linejoin="round" stroke-linecap="round"/>
<path d="M 131.04 90.63 Q 130.92 94.52 133.56 96.52" fill="none" stroke="#1f6889" stroke-width="0.8" stroke-linejoin="round" stroke-linecap="round"/>
<path d="M 423.77 81.18 L 424.03 87.96 L 417.56 108.99 Q 417.17 111.68 419.99 111.68 L 437.37 111.68 Q 440.12 111.68 439.24 109.00 L 433.14 88.00 L 432.88 81.23" fill="#f3f4f5" stroke="#3b3f44" stroke-width="1.2" stroke-linejoin="round" stroke-linecap="round"/>
<path d="M 421.65 99.17 L 436.27 99.21 L 438.27 108.90 Q 438.52 110.29 437.27 110.29 L 419.94 110.29 Q 418.67 110.28 418.91 108.89 Z" fill="#1d4f9c" stroke="none" stroke-width="1" stroke-linejoin="round" stroke-linecap="round"/>
<path d="M 420.83 80.56 L 435.76 80.65" fill="none" stroke="#3b3f44" stroke-width="1.7" stroke-linejoin="round" stroke-linecap="round"/>
<path d="M 430.57 87.99 C 430.56 87.75 430.75 87.55 430.99 87.55 C 431.23 87.55 431.43 87.75 431.44 88.00 C 431.45 88.24 431.27 88.44 431.02 88.44 C 430.78 88.44 430.58 88.24 430.57 87.99 Z" fill="#9aa" stroke="none" stroke-width="1" stroke-linejoin="round" stroke-linecap="round"/>
<path d="M 431.17 91.08 C 431.16 90.84 431.35 90.64 431.59 90.64 C 431.83 90.64 432.04 90.84 432.04 91.09 C 432.05 91.33 431.87 91.53 431.63 91.53 C 431.39 91.53 431.18 91.33 431.17 91.08 Z" fill="#9aa" stroke="none" stroke-width="1" stroke-linejoin="round" stroke-linecap="round"/>
<path d="M 431.87 94.17 C 431.86 93.93 432.05 93.73 432.29 93.73 C 432.53 93.73 432.73 93.93 432.74 94.18 C 432.75 94.42 432.56 94.62 432.32 94.62 C 432.08 94.62 431.88 94.42 431.87 94.17 Z" fill="#9aa" stroke="none" stroke-width="1" stroke-linejoin="round" stroke-linecap="round"/>
<path d="M 457.21 75.02 L 482.74 89.71" fill="none" stroke="#55595e" stroke-width="3.6" stroke-linejoin="round" stroke-linecap="round"/>
<path d="M 457.21 75.02 L 482.74 89.71" fill="none" stroke="#ededed" stroke-width="1.9" stroke-linejoin="round" stroke-linecap="round"/>
<path d="M 482.24 91.68 C 482.13 88.46 485.69 85.87 490.20 85.90 C 494.69 85.92 498.42 88.54 498.53 91.74 C 498.64 94.95 495.10 97.54 490.61 97.52 C 486.11 97.51 482.36 94.89 482.24 91.68 Z" fill="#e9e9e9" stroke="#55595e" stroke-width="1.1" stroke-linejoin="round" stroke-linecap="round"/>
<path d="M 482.48 90.20 Q 487.15 82.82 489.26 80.96 Q 493.24 83.65 498.20 90.27 Q 490.44 92.70 482.48 90.20 Z" fill="#dcdcdc" stroke="#55595e" stroke-width="0.9" stroke-linejoin="round" stroke-linecap="round"/>
<path d="M 39.48 289.16 L 43.56 289.04 L 43.91 295.23 L 39.83 295.36 Z" fill="#c9ced2" stroke="#3b3f44" stroke-width="0.8" stroke-linejoin="round" stroke-linecap="round"/>
<path d="M 37.80 286.79 L 46.29 286.54 Q 47.17 286.52 47.22 287.35 L 47.28 288.51 Q 47.33 289.35 46.45 289.37 L 37.96 289.63 Q 37.07 289.66 37.03 288.82 L 36.96 287.66 Q 36.91 286.82 37.80 286.79 Z" fill="#5a6067" stroke="#3b3f44" stroke-width="0.5" stroke-linejoin="round" stroke-linecap="round"/>
<path d="M 37.05 295.13 L 45.99 294.85 Q 48.52 294.77 48.65 297.18 L 49.70 315.81 Q 49.84 318.22 47.31 318.31 L 38.39 318.62 Q 35.85 318.71 35.71 316.30 L 34.65 297.62 Q 34.51 295.21 37.05 295.13 Z" fill="#dde7ee" stroke="#3b3f44" stroke-width="1.0" stroke-linejoin="round" stroke-linecap="round"/>
<path d="M 37.21 305.64 C 37.05 302.91 39.20 300.63 42.00 300.54 C 44.80 300.45 47.19 302.58 47.35 305.30 C 47.50 308.02 45.36 310.30 42.56 310.39 C 39.76 310.49 37.36 308.36 37.21 305.64 Z" fill="#56b6dc" stroke="#2a7fa8" stroke-width="0.9" stroke-linejoin="round" stroke-linecap="round"/>
<path d="M 37.51 312.88 L 47.75 312.53 L 47.97 316.29 L 37.72 316.65 Z" fill="#f0f4f7" stroke="none" stroke-width="1" stroke-linejoin="round" stroke-linecap="round"/>
<path d="M 31.97 339.85 L 36.52 336.32 L 42.55 337.45 L 42.83 342.36 L 39.97 342.47 L 39.31 346.37 L 36.44 346.49 L 36.17 341.68 L 33.35 342.73 Z" fill="#d7ebf6" stroke="#2a7ea9" stroke-width="0.9" stroke-linejoin="round" stroke-linecap="round"/>
<path d="M 36.11 346.50 L 41.73 346.28 L 41.95 350.25 L 36.34 350.47 Z" fill="#d7ebf6" stroke="#2a7ea9" stroke-width="0.8" stroke-linejoin="round" stroke-linecap="round"/>
<path d="M 34.24 350.56 L 43.38 350.19 Q 44.48 350.14 44.54 351.19 L 45.20 362.76 Q 45.26 363.81 44.16 363.85 L 35.02 364.25 Q 33.92 364.29 33.86 363.25 L 33.20 351.65 Q 33.14 350.60 34.24 350.56 Z" fill="#a4d3ec" stroke="#2a7ea9" stroke-width="1.0" stroke-linejoin="round" stroke-linecap="round"/>
<path d="M 33.61 353.10 L 44.30 352.66" fill="none" stroke="#2a7ea9" stroke-width="0.7" stroke-linejoin="round" stroke-linecap="round"/>
<path d="M 33.73 355.09 L 44.41 354.64" fill="none" stroke="#2a7ea9" stroke-width="0.7" stroke-linejoin="round" stroke-linecap="round"/>
<path d="M 45.93 344.54 L 49.22 344.41 Q 50.10 344.37 50.15 345.21 L 51.14 362.72 Q 51.18 363.55 50.31 363.59 L 47.02 363.73 Q 46.14 363.77 46.09 362.94 L 45.10 345.41 Q 45.05 344.57 45.93 344.54 Z" fill="#a4d3ec" stroke="#2a7ea9" stroke-width="1.0" stroke-linejoin="round" stroke-linecap="round"/>
<path d="M 43.16 340.36 L 51.51 340.03 L 53.36 343.72 L 50.23 342.70 L 45.15 344.47 L 43.32 343.28 Z" fill="#d7ebf6" stroke="#2a7ea9" stroke-width="0.9" stroke-linejoin="round" stroke-linecap="round"/>
<path d="M 282.91 300.45 Q 283.90 295.58 290.40 293.56 Q 294.28 292.13 293.05 289.55 Q 300.98 293.02 303.20 299.77 Z" fill="#fff" stroke="#34465a" stroke-width="1.0" stroke-linejoin="round" stroke-linecap="round"/>
<path d="M 281.61 298.68 L 303.42 297.95 Q 304.42 297.92 304.47 298.92 L 304.50 299.72 Q 304.55 300.72 303.54 300.76 L 281.74 301.49 Q 280.72 301.53 280.68 300.52 L 280.64 299.72 Q 280.60 298.71 281.61 298.68 Z" fill="#b7cfe0" stroke="#34465a" stroke-width="0.8" stroke-linejoin="round" stroke-linecap="round"/>
<path d="M 281.41 300.90 L 303.82 300.15 Q 305.83 300.08 305.92 302.08 L 306.26 309.78 Q 306.35 311.78 304.34 311.86 L 281.94 312.66 Q 279.91 312.73 279.82 310.72 L 279.47 302.98 Q 279.38 300.97 281.41 300.90 Z" fill="#9fc0d9" stroke="#34465a" stroke-width="1.1" stroke-linejoin="round" stroke-linecap="round"/>
<path d="M 282.35 303.89 L 301.33 303.24 L 301.56 308.25 L 282.58 308.91 Z" fill="#e9eff4" stroke="#34465a" stroke-width="0.7" stroke-linejoin="round" stroke-linecap="round"/>
<path d="M 297.03 303.89 L 301.06 303.75 L 301.24 307.86 L 297.21 308.00 Z" fill="#2a6fb0" stroke="none" stroke-width="1" stroke-linejoin="round" stroke-linecap="round"/>
<path d="M 281.17 349.25 L 290.63 341.33 L 290.90 347.33 L 298.15 340.33 L 298.45 347.02 L 306.58 339.78 L 307.53 361.21 L 281.77 362.35 Z" fill="#dadde0" stroke="#3b3f44" stroke-width="1.0" stroke-linejoin="round" stroke-linecap="round"/>
<path d="M 283.90 351.24 L 288.24 351.05 L 288.42 355.15 L 284.08 355.34 Z" fill="#6fb6da" stroke="#2a6f98" stroke-width="0.6" stroke-linejoin="round" stroke-linecap="round"/>
<path d="M 291.06 350.93 L 295.80 350.73 L 295.98 354.82 L 291.25 355.03 Z" fill="#6fb6da" stroke="#2a6f98" stroke-width="0.6" stroke-linejoin="round" stroke-linecap="round"/>
<path d="M 298.61 350.61 L 303.33 350.41 L 303.52 354.50 L 298.80 354.70 Z" fill="#6fb6da" stroke="#2a6f98" stroke-width="0.6" stroke-linejoin="round" stroke-linecap="round"/>
<path d="M 277.13 342.89 C 277.00 340.12 279.17 337.79 281.96 337.67 C 284.76 337.56 287.12 339.71 287.24 342.48 C 287.37 345.24 285.21 347.57 282.42 347.69 C 279.62 347.81 277.26 345.66 277.13 342.89 Z" fill="#a7b0b7" stroke="#566069" stroke-width="0.9" stroke-linejoin="round" stroke-linecap="round"/>
<path d="M 279.56 342.79 C 279.49 341.35 280.62 340.14 282.07 340.08 C 283.53 340.02 284.75 341.14 284.82 342.58 C 284.89 344.01 283.76 345.23 282.31 345.29 C 280.86 345.35 279.63 344.23 279.56 342.79 Z" fill="none" stroke="#7d8891" stroke-width="0.8" stroke-linejoin="round" stroke-linecap="round"/>
</g>
</svg>
</div>
</body></html>
